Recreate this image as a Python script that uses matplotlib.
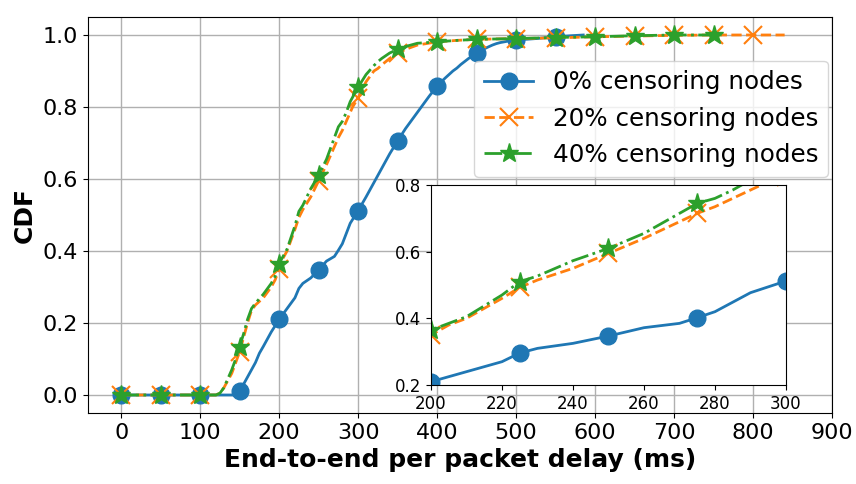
import matplotlib
matplotlib.use("Agg")
import matplotlib.pyplot as plt

# ---- data ----
labels = ["0% censoring nodes", "20% censoring nodes", "40% censoring nodes"]

x0 = [0, 50, 100, 145, 150, 155, 160, 170, 175, 180, 190, 200, 210, 220, 225, 230,
      240, 250, 260, 270, 275, 280, 290, 300, 310, 320, 325, 330, 340, 350, 360, 370,
      375, 380, 390, 400, 410, 420, 425, 430, 440, 450, 460, 470, 475, 480, 490, 500,
      525, 550, 570, 585]
y0 = [0, 0, 0, 0, 0.01, 0.03, 0.05, 0.09, 0.116, 0.135, 0.175, 0.21, 0.24, 0.27, 0.296, 0.31,
      0.325, 0.347, 0.372, 0.385, 0.402, 0.42, 0.477, 0.512, 0.55, 0.59, 0.61, 0.63, 0.67, 0.706, 0.74, 0.77,
      0.785, 0.80, 0.83, 0.858, 0.88, 0.90, 0.908, 0.918, 0.935, 0.95, 0.962, 0.972, 0.976, 0.979, 0.983, 0.986,
      0.99, 0.995, 0.998, 1.0]

x20 = [0, 50, 100, 120, 125, 130, 140, 145, 150, 155, 160, 165, 170, 180, 190, 195, 200, 205,
       210, 220, 225, 230, 240, 250, 260, 270, 275, 280, 290, 293, 300, 310, 320, 325, 330, 340,
       350, 360, 375, 400, 425, 450, 500, 550, 600, 650, 700, 750, 800, 840]
y20 = [0, 0, 0, 0, 0.005, 0.02, 0.06, 0.09, 0.12, 0.16, 0.2, 0.235, 0.25, 0.27, 0.3, 0.32, 0.35, 0.38,
       0.40, 0.46, 0.493, 0.515, 0.55, 0.595, 0.64, 0.69, 0.715, 0.735, 0.785, 0.80, 0.825, 0.87, 0.9, 0.907, 0.917, 0.935,
       0.949, 0.96, 0.972, 0.981, 0.985, 0.988, 0.99, 0.992, 0.995, 0.997, 0.999, 1.0, 1.0, 1.0]

x40 = [0, 50, 100, 120, 125, 130, 140, 145, 150, 155, 160, 165, 170, 180, 190, 195, 200, 205,
       210, 220, 225, 230, 240, 250, 260, 270, 275, 280, 285, 290, 300, 310, 320, 325, 330, 340,
       350, 360, 375, 400, 425, 450, 500, 550, 600, 650, 700, 750, 760]
y40 = [0, 0, 0, 0, 0.005, 0.02, 0.07, 0.10, 0.134, 0.17, 0.21, 0.24, 0.255, 0.28, 0.31, 0.33, 0.365, 0.385,
       0.405, 0.47, 0.51, 0.527, 0.573, 0.61, 0.655, 0.715, 0.745, 0.76, 0.785, 0.815, 0.855, 0.89, 0.915, 0.926, 0.935, 0.95,
       0.96, 0.968, 0.977, 0.981, 0.985, 0.988, 0.99, 0.993, 0.995, 0.998, 1.0, 1.0, 1.0]

main_marker_step = 50
inset_marker_step = 25

series = [
    (x0, y0, dict(color="#1f77b4", linestyle="-", marker="o", markersize=12)),
    (x20, y20, dict(color="#ff7f0e", linestyle="--", marker="x", markersize=13, markeredgewidth=1.5)),
    (x40, y40, dict(color="#2ca02c", linestyle="-.", marker="*", markersize=14)),
]

fig = plt.figure(figsize=(8.56, 4.84), dpi=100)
ax = fig.add_axes([0.1028, 0.1467, 0.8692, 0.8182])

for (xs, ys, st), lab in zip(series, labels):
    idx = [i for i, v in enumerate(xs) if v % main_marker_step == 0]
    ax.plot(xs, ys, linewidth=2, markevery=idx, label=lab, **st)

ax.set_xlim(right=900)
ax.set_xticks(range(0, 901, 100))
ax.grid(True, color="#b0b0b0", linewidth=1)
ax.tick_params(labelsize=16)
ax.set_xlabel("End-to-end per packet delay (ms)", fontsize=18, fontweight="bold")
ax.set_ylabel("CDF", fontsize=18, fontweight="bold")
ax.legend(loc="upper right", bbox_to_anchor=(0.995, 0.89), borderaxespad=0, fontsize=17.7)

ins = fig.add_axes([0.5035, 0.2045, 0.4147, 0.4132])
for (xs, ys, st), lab in zip(series, labels):
    idx = [i for i, v in enumerate(xs) if v % inset_marker_step == 0 and 200 <= v <= 300]
    ins.plot(xs, ys, linewidth=2, markevery=idx, **st)
ins.set_xlim(200, 300)
ins.set_ylim(0.2, 0.8)
ins.set_xticks(range(200, 301, 20))
ins.set_yticks([0.2, 0.4, 0.6, 0.8])
ins.tick_params(labelsize=12)

fig.savefig("out.png", dpi=100)
